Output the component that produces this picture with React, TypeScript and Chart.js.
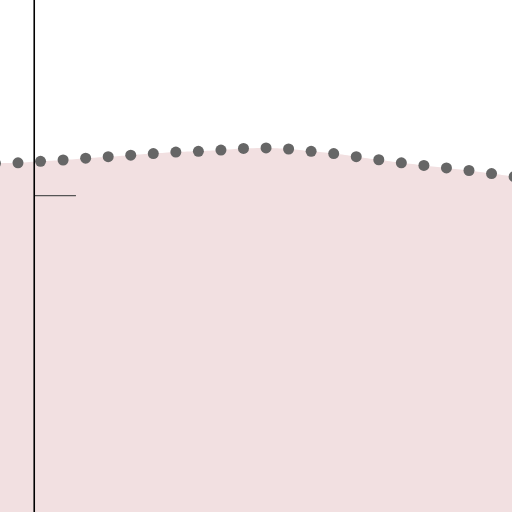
import React, { useEffect, useRef } from "react";
import { Chart, registerables } from "chart.js";

Chart.register(...registerables);

// x positions of the series (index units)
const xIndex = [-1, 0, 1, 2, 3, 4, 5, 6, 7, 8, 9, 10, 11, 12, 13, 14, 15, 16, 17, 18, 19, 20, 21, 22];
// series values (0..100 scale)
const seriesValues = [
  68.1, 68.2, 68.5, 68.75, 69.1, 69.4, 69.7, 70.0, 70.3, 70.45, 70.7, 71.0,
  71.1, 70.9, 70.45, 70.0, 69.4, 68.8, 68.2, 67.7, 67.2, 66.7, 66.1, 65.5,
];
// vertical reference line (x value) and short horizontal marker
const axisX = [0.72, 0.72];
const axisY = [-5, 105];
const markerX = [0.72, 2.57];
const markerY = [61.8, 61.8];

export default function App() {
  const ref = useRef<HTMLCanvasElement>(null);
  useEffect(() => {
    if (!ref.current) return;
    const chart = new Chart(ref.current, {
      type: "line",
      data: {
        datasets: [
          {
            data: axisX.map((x, i) => ({ x, y: axisY[i] })),
            borderColor: "#000000",
            borderWidth: 1.6,
            pointRadius: 0,
            fill: false,
          },
          {
            data: markerX.map((x, i) => ({ x, y: markerY[i] })),
            borderColor: "#555555",
            borderWidth: 1.4,
            pointRadius: 0,
            fill: false,
          },
          {
            data: xIndex.map((x, i) => ({ x, y: seriesValues[i] })),
            borderWidth: 0,
            borderColor: "rgba(0,0,0,0)",
            backgroundColor: "#f2e0e1",
            fill: "start",
            tension: 0.4,
            pointRadius: 5.5,
            pointBorderWidth: 0,
            pointBackgroundColor: "#666666",
          },
        ],
      },
      options: {
        responsive: false,
        animation: false,
        layout: { padding: 0, autoPadding: false },
        plugins: { legend: { display: false }, tooltip: { enabled: false } },
        scales: {
          x: { type: "linear", display: false, min: -0.798, max: 21.907 },
          y: { type: "linear", display: false, min: 0, max: 100 },
        },
      },
    });
    return () => chart.destroy();
  }, []);
  return (
    <canvas
      ref={ref}
      width={512}
      height={512}
      style={{ position: "fixed", top: 0, left: 0, width: 512, height: 512, display: "block" }}
    />
  );
}
